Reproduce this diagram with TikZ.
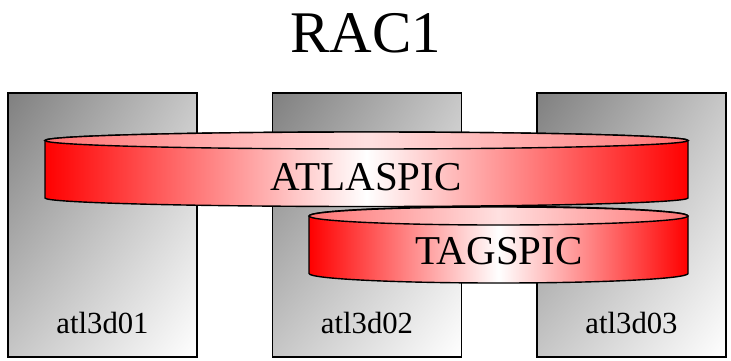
\documentclass[tikz,border=0pt]{standalone}
\usepackage{fontspec}
\setmainfont{Liberation Serif}
\usetikzlibrary{shadings}

\tikzset{
  hostbox/.style={draw, line width=1.2pt, upper left=black!50, upper right=black!22,
    lower left=black!22, lower right=white,
    minimum width=189pt, minimum height=264pt, inner sep=0pt},
  hostlabel/.style={anchor=base, font=\fontsize{30.7}{36}\selectfont},
  dbbody/.style={draw, line width=1.4pt, left color=red, right color=red, middle color=white},
  dbtop/.style={draw, line width=1.4pt, left color=red!55, right color=red!55, middle color=red!12},
  dblabel/.style={anchor=base, font=\fontsize{41}{48}\selectfont}
}

\begin{document}
\begin{tikzpicture}[x=1pt, y=1pt]
  \useasboundingbox (0,0) rectangle (731,-360);

  \node[anchor=base, font=\fontsize{59}{70}\selectfont] (title) at (366,-52) {RAC1};

  % hosts
  \node[hostbox] (host1) at (102.5,-225) {};
  \node[hostbox] (host2) at (367,-225) {};
  \node[hostbox] (host3) at (631.5,-225) {};
  \node[hostlabel] (name1) at (102.5,-333) {atl3d01};
  \node[hostlabel] (name2) at (367,-333) {atl3d02};
  \node[hostlabel] (name3) at (631.5,-333) {atl3d03};

  % ATLASPIC
  \path[dbbody] (45,-140.5) -- (45,-198)
    arc[start angle=180, end angle=360, x radius=321.5pt, y radius=8.5pt]
    -- (688,-140.5)
    arc[start angle=0, end angle=180, x radius=321.5pt, y radius=8.5pt] -- cycle;
  \path[dbtop] (366.5,-140.5) ellipse[x radius=321.5pt, y radius=8.5pt];
  \node[dblabel] (atlaspic) at (366,-190) {ATLASPIC};

  % TAGSPIC
  \path[dbbody] (309,-216) -- (309,-273.5)
    arc[start angle=180, end angle=360, x radius=189.5pt, y radius=9.5pt]
    -- (688,-216)
    arc[start angle=0, end angle=180, x radius=189.5pt, y radius=9.5pt] -- cycle;
  \path[dbtop] (498.5,-216) ellipse[x radius=189.5pt, y radius=9pt];
  \node[dblabel] (tagspic) at (499,-264) {TAGSPIC};
\end{tikzpicture}
\end{document}
